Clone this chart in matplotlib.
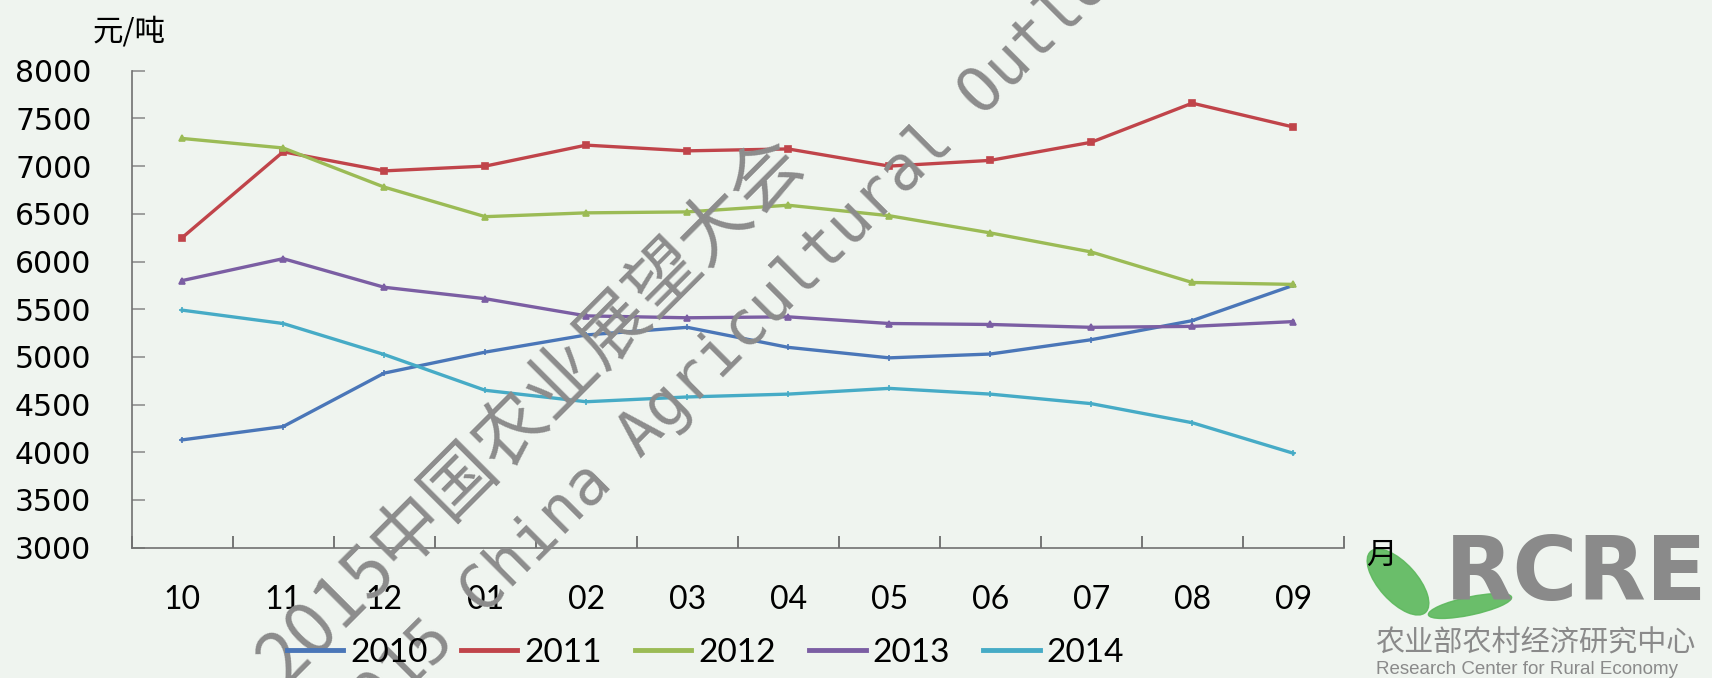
import matplotlib.pyplot as plt
from matplotlib.patches import Ellipse
from matplotlib.lines import Line2D

# 数据（元/吨）
months = ['10', '11', '12', '01', '02', '03', '04', '05', '06', '07', '08', '09']
years = ['2010', '2011', '2012', '2013', '2014']
y2010 = [4130, 4270, 4830, 5050, 5230, 5310, 5100, 4990, 5030, 5180, 5380, 5750]
y2011 = [6250, 7150, 6950, 7000, 7220, 7160, 7180, 7000, 7060, 7250, 7660, 7410]
y2012 = [7290, 7190, 6780, 6470, 6510, 6520, 6590, 6480, 6300, 6100, 5780, 5760]
y2013 = [5800, 6030, 5730, 5610, 5430, 5410, 5420, 5350, 5340, 5310, 5320, 5370]
y2014 = [5490, 5350, 5025, 4650, 4530, 4580, 4610, 4670, 4610, 4510, 4310, 3990]
series = [y2010, y2011, y2012, y2013, y2014]
colors = ['#4a76b8', '#c0444a', '#9bbb55', '#7b5ea3', '#46abc6']
markers = ['+', 's', '^', '^', '+']

bg = '#eff4ef'
cjk = ['Noto Sans CJK SC', 'DejaVu Sans']

fig = plt.figure(figsize=(17.12, 6.78), dpi=100, facecolor=bg)
ax = fig.add_axes([0.0769, 0.1922, 0.708, 0.7035], facecolor=bg)

x = list(range(len(months)))
for yr, vals, c, m in zip(years, series, colors, markers):
    ax.plot(x, vals, color=c, lw=2.4, marker=m, ms=4, mew=1.2, label=yr)

ax.set_xlim(-0.5, 11.5)
ax.set_ylim(3000, 8000)
ax.set_yticks(range(3000, 8001, 500))
ax.set_xticks(x)
ax.set_xticklabels(months, family='Lato', fontsize=23)
ax.set_xticks([i - 0.5 for i in range(13)], minor=True)
for s in ['top', 'right']:
    ax.spines[s].set_visible(False)
for s in ['left', 'bottom']:
    ax.spines[s].set_color('#707070')
    ax.spines[s].set_linewidth(1.2)
ax.tick_params(axis='y', direction='in', length=9, width=1.2, color='#909090',
               labelsize=21.5, pad=29)
ax.tick_params(axis='x', which='major', length=0, pad=27)
ax.tick_params(axis='x', which='minor', direction='in', length=9, width=1.2,
               color='#606060')

fig.text(0.054, 0.953, '元/吨', family=cjk, fontsize=22, va='center')
fig.text(0.798, 0.181, '月', family=cjk, fontsize=22, va='center')

handles = [Line2D([], [], color=c, lw=3.5) for c in colors]
fig.legend(handles, years, loc='center', bbox_to_anchor=(0.412, 0.037),
           ncol=5, frameon=False, handlelength=1.7, handletextpad=0.2,
           columnspacing=1.0, prop={'family': 'Lato', 'size': 24})

# 覆盖层：水印和标志
ov = fig.add_axes([0, 0, 1, 1])
ov.set_xlim(0, 1712)
ov.set_ylim(678, 0)
ov.axis('off')
ov.patch.set_alpha(0)

ov.add_patch(Ellipse((1398, 582), 38, 82, angle=-42, color='#5cb85c', alpha=0.9))
ov.add_patch(Ellipse((1470, 606), 85, 18, angle=-12, color='#5cb85c', alpha=0.9))
ov.text(1445, 600, 'RCRE', fontsize=64, fontweight='bold', color='#8a8a8a',
        family='DejaVu Sans')
ov.text(1375, 652, '农业部农村经济研究中心', fontsize=21, color='#8a8a8a', family=cjk)
ov.text(1376, 674, 'Research Center for Rural Economy', fontsize=13.5,
        color='#8a8a8a', family='Liberation Sans')

ov.text(531, 411, '2015中国农业展望大会', fontsize=52, color='#8c8c8c', family=cjk,
        rotation=45, ha='center', va='center', rotation_mode='anchor')
ov.text(747, 329, '2015 China Agricultural Outlook', fontsize=44.5, color='#8c8c8c',
        family='DejaVu Sans Mono', rotation=45, ha='center', va='center',
        rotation_mode='anchor')

fig.savefig('out.png', dpi=100, facecolor=bg)
